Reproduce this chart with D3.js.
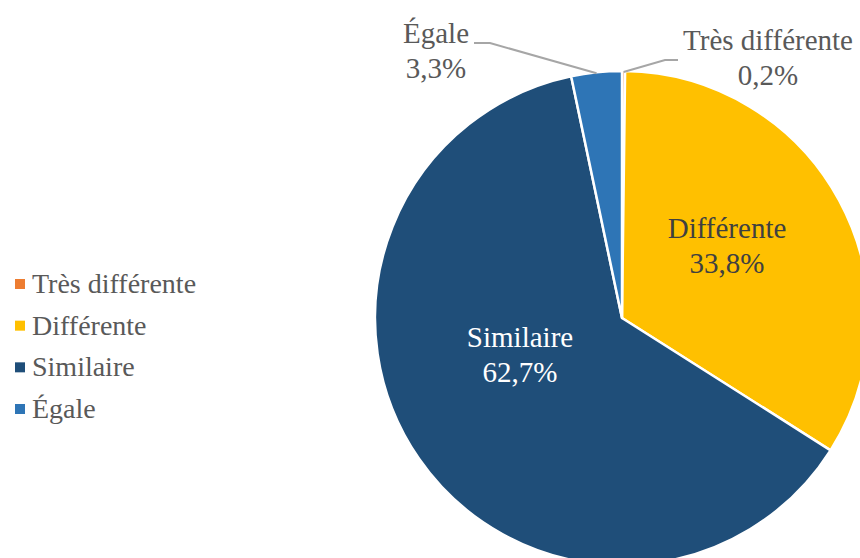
<!DOCTYPE html>
<html><head><meta charset="utf-8">
<script src="https://cdn.jsdelivr.net/npm/d3@7"></script>
<style>html,body{margin:0;padding:0;background:#fff;overflow:hidden}
svg text{font-family:"Liberation Serif","Times New Roman",Tinos,serif}</style>
</head><body>
<svg id="c" width="860" height="558"></svg>
<script>
const categories = ["Très différente", "Différente", "Similaire", "Égale"];
const values = [0.2, 33.8, 62.7, 3.3];
const valueLabels = ["0,2%", "33,8%", "62,7%", "3,3%"];
const colors = ["#ED7D31", "#FFC000", "#1F4E79", "#2E75B6"];

const svg = d3.select("#c");
const cx = 622, cy = 318, R = 247;

const pie = d3.pie().sort(null).value(d => d)(values);
const arc = d3.arc().innerRadius(0).outerRadius(R);

const g = svg.append("g").attr("transform", `translate(${cx},${cy})`);
g.selectAll("path").data(pie).join("path")
  .attr("d", arc)
  .attr("fill", (d, i) => colors[i])
  .attr("stroke", "#fff").attr("stroke-width", 2.5).attr("stroke-linejoin", "round");

// label layout (relative offsets in pixels from chart center)
const labelPos = [
  {x: 146, y: -268, color: "#595959", line: [[0, -246], [43, -258], [56, -258]]},
  {x: 105, y: -80, color: "#404040"},
  {x: -102, y: 29, color: "#ffffff"},
  {x: -186, y: -275, color: "#595959", line: [[-27, -246], [-132, -275], [-148, -275]]}
];

labelPos.forEach((p, i) => {
  if (p.line) {
    const a = (pie[i].startAngle + pie[i].endAngle) / 2;
    const start = [Math.sin(a) * (R - 1), -Math.cos(a) * (R - 1)];
    const pts = [start, p.line[1], p.line[2]];
    g.append("polyline")
      .attr("points", pts.map(q => q.join(",")).join(" "))
      .attr("fill", "none").attr("stroke", "#A6A6A6").attr("stroke-width", 2);
  }
  const t = g.append("text")
    .attr("text-anchor", "middle")
    .style("font-size", "29px")
    .attr("fill", p.color);
  t.append("tspan").attr("x", p.x).attr("y", p.y).text(categories[i]);
  t.append("tspan").attr("x", p.x).attr("y", p.y + 35).text(valueLabels[i]);
});

// legend
const ly = d3.scalePoint().domain(categories).range([284, 409]);
const lg = svg.append("g");
categories.forEach((c, i) => {
  lg.append("rect").attr("x", 15).attr("y", ly(c) - 5).attr("width", 10).attr("height", 10)
    .attr("fill", colors[i]);
  lg.append("text").attr("x", 32).attr("y", ly(c) + 9)
    .style("font-size", "28px").attr("fill", "#595959").text(c);
});
</script>
</body></html>
